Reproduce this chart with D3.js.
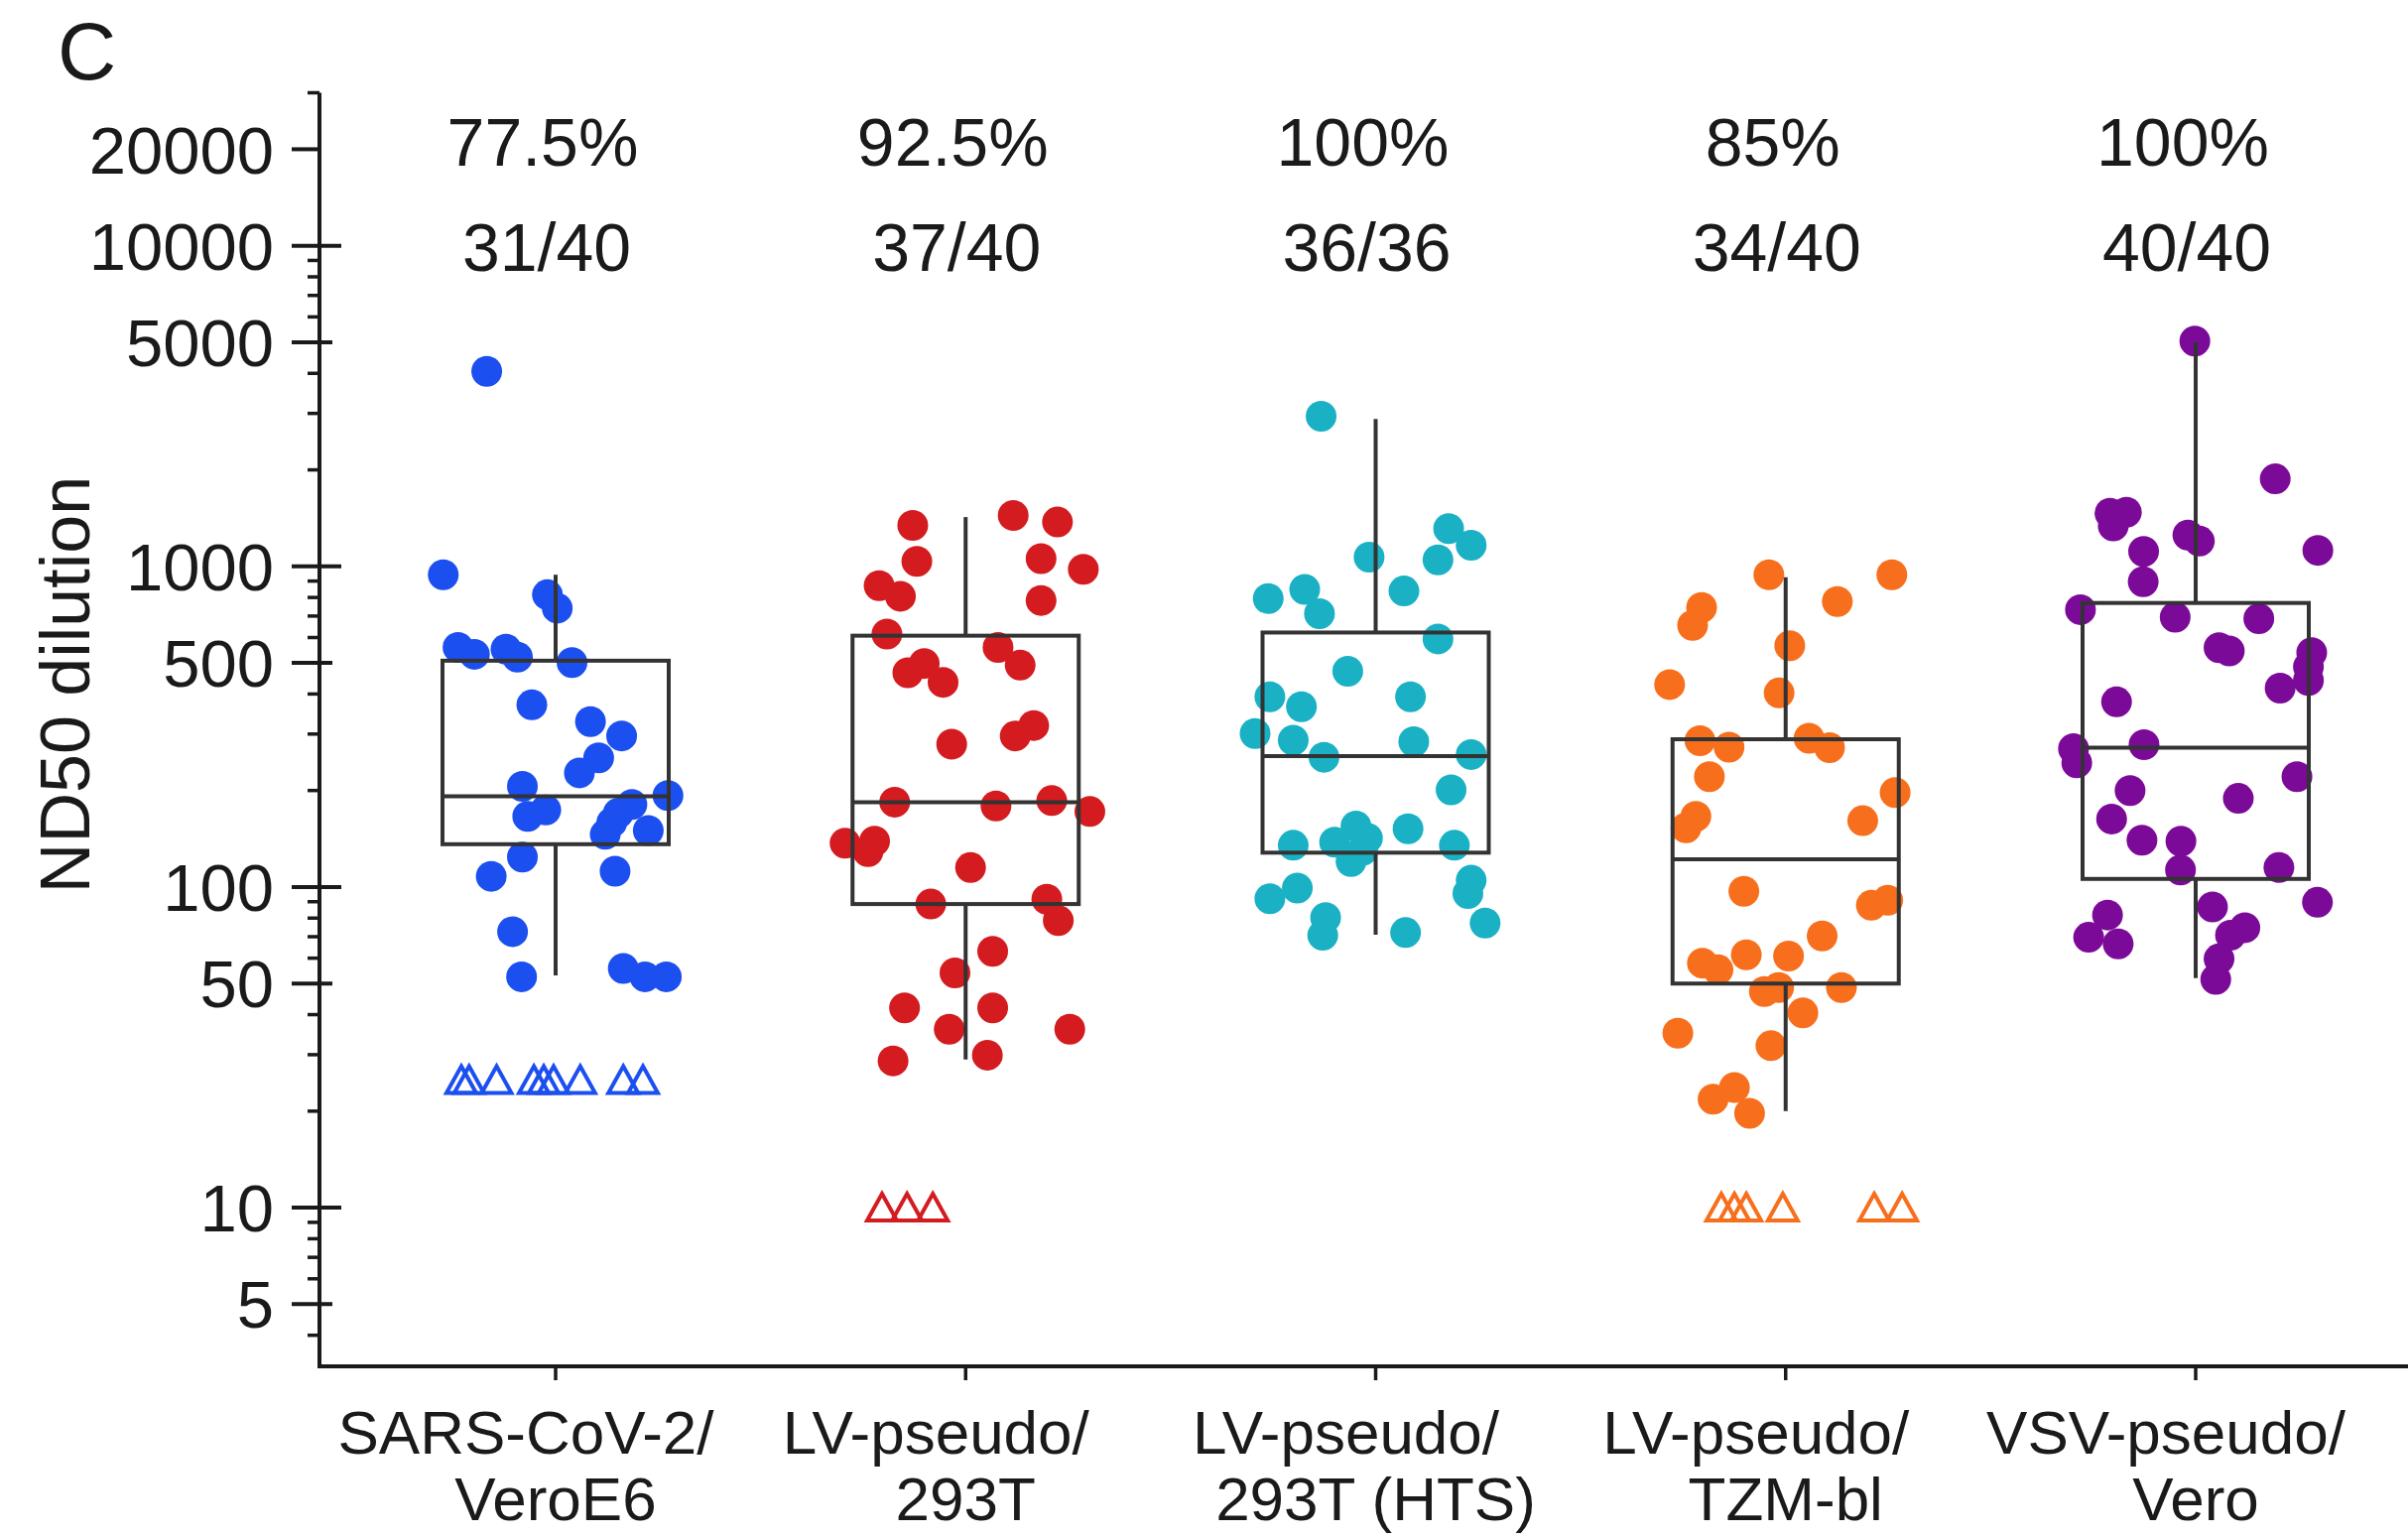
<!DOCTYPE html>
<html>
<head>
<meta charset="utf-8">
<script src="https://cdn.jsdelivr.net/npm/d3@7"></script>
<style>
  html, body { margin: 0; padding: 0; background: #fff; }
  svg { display: block; }
  text { font-family: "Liberation Sans", Arial, Helvetica, sans-serif; fill: #1a1a1a; }
</style>
</head>
<body>
<svg id="chart" width="2427" height="1550"></svg>
<script>
// Neutralising-antibody titres (ND50) measured with five assay systems.
const categories = ["SARS-CoV-2/VeroE6", "LV-pseudo/293T", "LV-pseudo/293T (HTS)", "LV-pseudo/TZM-bl", "VSV-pseudo/Vero"];
const labelLine1 = ["SARS-CoV-2/", "LV-pseudo/", "LV-pseudo/", "LV-pseudo/", "VSV-pseudo/"];
const labelLine2 = ["VeroE6", "293T", "293T (HTS)", "TZM-bl", "Vero"];
const percentLabels = ["77.5%", "92.5%", "100%", "85%", "100%"];
const countLabels = ["31/40", "37/40", "36/36", "34/40", "40/40"];
const colors = ["#1c4ff0", "#d41c20", "#1ab1c4", "#f76f1c", "#7b0a98"];

// Box-and-whisker summaries per assay
const whiskerLow  = [53, 29, 71, 20, 52];
const boxQ1       = [136, 88.5, 128, 50, 106];
const boxMedian   = [192, 184, 256, 122, 272];
const boxQ3       = [508, 608, 622, 289, 769];
const whiskerHigh = [942, 1425, 2884, 925, 5000];

// Detected titres: [ND50, horizontal jitter as a fraction of the category spacing]
const sarsVero = [
  [4056,-0.168],[942,-0.274],[816,-0.020],[741,0.004],[559,-0.238],[532,-0.198],[552,-0.121],
  [521,-0.093],[501,0.040],[370,-0.058],[328,0.085],[296,0.161],[253,0.105],[227,0.058],
  [206,-0.081],[193,0.274],[181,0.186],[174,-0.024],[166,-0.068],[170,0.153],[159,0.137],
  [146,0.121],[150,0.226],[124,-0.081],[108,-0.157],[112,0.145],[72.6,-0.105],[52.5,-0.083],
  [55.7,0.165],[52.5,0.218],[52.5,0.270]
];
const lv293T = [
  [1343,-0.129],[1442,0.116],[1375,0.224],[1037,-0.119],[1057,0.184],[979,0.287],[871,-0.211],
  [807,-0.159],[783,0.184],[615,-0.192],[559,0.079],[492,0.133],[498,-0.101],[466,-0.141],
  [435,-0.055],[279,-0.034],[319,0.166],[296,0.121],[184,-0.173],[179,0.074],[186,0.210],
  [172,0.303],[137,-0.294],[139,-0.222],[129,-0.238],[115,0.012],[88.5,-0.085],[91.6,0.198],
  [78.6,0.226],[63,0.066],[54,-0.026],[42,-0.149],[42,0.066],[36,-0.040],[36,0.254],
  [28.7,-0.177],[29.9,0.053]
];
const lv293THTS = [
  [2940,-0.133],[1312,0.178],[1164,0.233],[1048,0.152],[1069,-0.016],[848,-0.173],[794,-0.262],
  [712,-0.137],[838,0.069],[594,0.152],[471,-0.068],[392,-0.258],[365,-0.181],[392,0.085],
  [301,-0.294],[287,-0.201],[284,0.093],[254,-0.126],[259,0.233],[201,0.184],[135,-0.201],
  [138,-0.100],[155,-0.048],[142,-0.020],[152,0.079],[135,0.192],[120,-0.060],[130,-0.032],
  [91.9,-0.258],[99.3,-0.191],[105,0.233],[95.5,0.225],[80.3,-0.122],[70.7,-0.129],
  [72.1,0.073],[77.2,0.267]
];
const lvTZMbl = [
  [942,-0.041],[942,0.259],[777,0.126],[744,-0.205],[655,-0.227],[566,0.010],[428,-0.283],
  [403,-0.016],[286,-0.209],[273,-0.138],[291,0.057],[272,0.107],[221,-0.186],[197,0.267],
  [161,0.188],[166,-0.219],[153,-0.243],[97,-0.102],[87.7,0.209],[90.9,0.249],[70.4,0.089],
  [57.9,-0.203],[55.2,-0.165],[61.5,-0.096],[60.9,0.007],[47.2,-0.052],[48.6,-0.017],
  [48.6,0.136],[40.5,0.042],[35,-0.263],[32,-0.036],[21.8,-0.177],[23.7,-0.125],[19.7,-0.088]
];
const vsvVero = [
  [5040,-0.002],[1875,0.194],[1466,-0.209],[1475,-0.169],[1337,-0.201],[1252,-0.019],[1199,0.009],
  [1122,0.298],[1114,-0.127],[896,-0.128],[733,-0.281],[694,-0.050],[687,0.154],[558,0.057],
  [545,0.082],[538,0.283],[417,0.206],[441,0.275],[378,-0.193],[270,-0.298],[244,-0.290],
  [278,-0.126],[221,0.247],[200,-0.160],[189,0.104],[163,-0.205],[140,-0.131],[139,-0.036],
  [113,-0.037],[115,0.203],[89.6,0.297],[86.7,0.041],[81.8,-0.215],[69.7,-0.261],[66.5,-0.189],
  [74.7,0.120],[70.8,0.085],[59.7,0.057],[51.5,0.049],[486,0.275]
];
const detected = [sarsVero, lv293T, lv293THTS, lvTZMbl, vsvVero];

// Samples below the detection limit: [plotted value, jitter]
const belowLimit = [
  [[25,-0.230],[25,-0.211],[25,-0.144],[25,-0.053],[25,-0.029],[25,-0.005],[25,0.060],[25,0.165],[25,0.213]],
  [[10,-0.204],[10,-0.143],[10,-0.080]],
  [],
  [[10,-0.157],[10,-0.125],[10,-0.096],[10,-0.007],[10,0.216],[10,0.284]],
  []
];

// Y axis ticks
const labeledTicks = [5, 10, 50, 100, 500, 1000, 5000, 10000, 20000];
const tickText = ["5", "10", "50", "100", "500", "1000", "5000", "10000", "20000"];

const svg = d3.select("#chart");
const ink = "#1a1a1a";
const boxInk = "#333333";

const y = d3.scaleLog().domain([3.2, 30000]).range([1377, 93.5]);
const x = d3.scalePoint().domain(categories).range([560, 2213]);
const step = x.step();
const jitter = d3.scaleLinear().domain([-1, 1]).range([-step, step]);
const boxHalf = 114;
const axisX = 322;
const axisY = 1377;

// --- Y axis ---
const yAxis = svg.append("g");
yAxis.append("line")
  .attr("x1", axisX).attr("x2", axisX)
  .attr("y1", y.range()[1]).attr("y2", axisY + 2)
  .attr("stroke", ink).attr("stroke-width", 4);

// minor ticks 2..9 x 10^n inside the domain, up to 10000, plus 30000 at the top
const minorTicks = [];
for (let e = 0; e <= 3; e++) {
  for (let m = 2; m <= 9; m++) {
    const v = m * Math.pow(10, e);
    if (v === 5 * Math.pow(10, e)) continue;
    if (v >= y.domain()[0]) minorTicks.push(v);
  }
}
minorTicks.push(30000);
yAxis.selectAll(".minor").data(minorTicks).join("line")
  .attr("x1", axisX - 12).attr("x2", axisX)
  .attr("y1", d => y(d)).attr("y2", d => y(d))
  .attr("stroke", ink).attr("stroke-width", 3.5);

yAxis.selectAll(".major").data(labeledTicks).join("line")
  .attr("x1", axisX - 28)
  .attr("x2", d => {
    const lg = Math.log10(d);
    if (d === 20000) return axisX;
    return Math.abs(lg - Math.round(lg)) < 1e-9 ? axisX + 22 : axisX + 13;
  })
  .attr("y1", d => y(d)).attr("y2", d => y(d))
  .attr("stroke", ink).attr("stroke-width", 4);

yAxis.selectAll(".tlabel").data(labeledTicks).join("text")
  .attr("x", axisX - 46)
  .attr("y", d => y(d))
  .attr("dy", "0.36em")
  .attr("text-anchor", "end")
  .attr("font-size", 67)
  .text((d, i) => tickText[i]);

svg.append("text")
  .attr("transform", `translate(90,690) rotate(-90)`)
  .attr("text-anchor", "middle")
  .attr("font-size", 70)
  .text("ND50 dilution");

// Panel letter
svg.append("text")
  .attr("x", 58).attr("y", 80)
  .attr("font-size", 82)
  .text("C");

// --- X axis ---
svg.append("line")
  .attr("x1", axisX - 2).attr("x2", 2427)
  .attr("y1", axisY).attr("y2", axisY)
  .attr("stroke", ink).attr("stroke-width", 4);

svg.selectAll(".xtick").data(categories).join("line")
  .attr("x1", d => x(d)).attr("x2", d => x(d))
  .attr("y1", axisY).attr("y2", axisY + 14)
  .attr("stroke", ink).attr("stroke-width", 3.5);

// first label line is set slightly left of the tick, second line centred on it
const xl = svg.selectAll(".xlabel").data(categories).join("text")
  .attr("text-anchor", "middle")
  .attr("font-size", 62);
xl.append("tspan").attr("x", d => x(d) - 30).attr("y", 1465).text((d, i) => labelLine1[i]);
xl.append("tspan").attr("x", d => x(d)).attr("y", 1532).text((d, i) => labelLine2[i]);

// Positive fraction labels above each assay
svg.selectAll(".pct").data(categories).join("text")
  .attr("x", d => x(d) - 13).attr("y", 167)
  .attr("text-anchor", "middle").attr("font-size", 68)
  .text((d, i) => percentLabels[i]);
svg.selectAll(".cnt").data(categories).join("text")
  .attr("x", d => x(d) - 9).attr("y", 273)
  .attr("text-anchor", "middle").attr("font-size", 68)
  .text((d, i) => countLabels[i]);

// --- Points ---
categories.forEach((cat, i) => {
  const g = svg.append("g");
  g.selectAll("circle").data(detected[i]).join("circle")
    .attr("cx", d => x(cat) + jitter(d[1]))
    .attr("cy", d => y(d[0]))
    .attr("r", 15.5)
    .attr("fill", colors[i]);

  g.selectAll("path").data(belowLimit[i]).join("path")
    .attr("transform", d => `translate(${x(cat) + jitter(d[1])},${y(d[0])})`)
    .attr("d", "M0,-14 L15,13 L-15,13 Z")
    .attr("fill", "none")
    .attr("stroke", colors[i])
    .attr("stroke-width", 4)
    .attr("stroke-linejoin", "miter");
});

// --- Boxes (drawn over the points) ---
categories.forEach((cat, i) => {
  const cx = x(cat);
  const g = svg.append("g").attr("stroke", boxInk).attr("stroke-width", 4).attr("fill", "none");
  g.append("line").attr("x1", cx).attr("x2", cx)
    .attr("y1", y(whiskerHigh[i])).attr("y2", y(boxQ3[i]));
  g.append("line").attr("x1", cx).attr("x2", cx)
    .attr("y1", y(boxQ1[i])).attr("y2", y(whiskerLow[i]));
  g.append("rect")
    .attr("x", cx - boxHalf).attr("width", boxHalf * 2)
    .attr("y", y(boxQ3[i])).attr("height", y(boxQ1[i]) - y(boxQ3[i]));
  g.append("line").attr("x1", cx - boxHalf).attr("x2", cx + boxHalf)
    .attr("y1", y(boxMedian[i])).attr("y2", y(boxMedian[i]));
});
</script>
</body>
</html>
